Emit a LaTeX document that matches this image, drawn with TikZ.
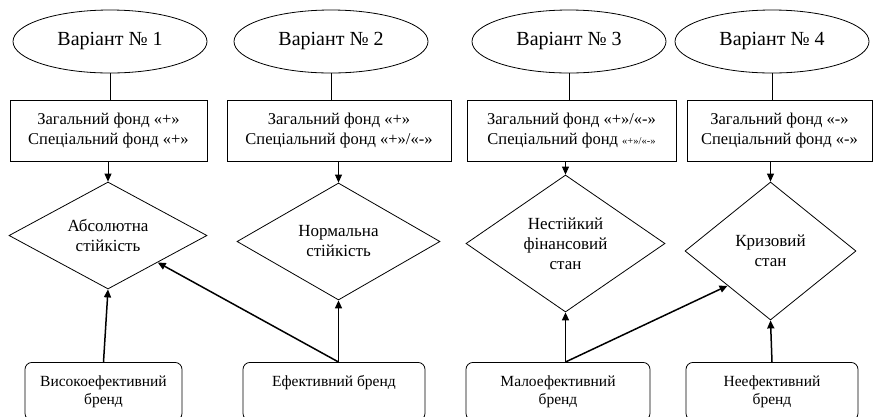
\documentclass[tikz,border=0pt]{standalone}
\usepackage{fontspec}
\setmainfont{Liberation Serif}
\usetikzlibrary{shapes.geometric, arrows.meta}

\begin{document}
\begin{tikzpicture}[x=1pt, y=-1pt, >={Triangle[length=8pt, width=7pt]},
    variant/.style={draw, ellipse, line width=0.8pt, inner sep=0pt,
        minimum width=194pt, minimum height=63pt, font=\fontsize{20}{23}\selectfont},
    fund/.style={draw, rectangle, line width=0.8pt, align=center,
        minimum height=61pt, font=\fontsize{16.5}{20}\selectfont},
    state/.style={draw, diamond, aspect=2, inner sep=0pt, line width=0.8pt, align=center,
        font=\fontsize{17}{20}\selectfont},
    brand/.style={draw, rectangle, rounded corners=7pt, line width=0.8pt, align=center,
        anchor=north, minimum height=58pt, font=\fontsize{15.5}{18}\selectfont},
    link/.style={->, line width=1.5pt}]
    \useasboundingbox (0, 0) rectangle (873, 416);

    % Variants
    \node[variant] (e1) at (110, 41.5) {Варіант № 1};
    \node[variant] (e2) at (331, 41.5) {Варіант № 2};
    \node[variant] (e3) at (569, 41.5) {Варіант № 3};
    \node[variant] (e4) at (772, 41.5) {Варіант № 4};

    % Funds
    \node[fund, minimum width=197pt] (r1) at (108.5, 130.5) {Загальний фонд «+»\\Спеціальний фонд «+»};
    \node[fund, minimum width=224pt] (r2) at (339, 130.5) {Загальний фонд «+»\\Спеціальний фонд «+»/«-»};
    \node[fund, minimum width=209pt] (r3) at (571.5, 130.5) {Загальний фонд «+»/«-»\\Спеціальний фонд {\fontsize{10.5}{12}\selectfont«+»/«-»}};
    \node[fund, minimum width=185pt] (r4) at (779.5, 130.5) {Загальний фонд «-»\\Спеціальний фонд «-»};

    % States
    \node[state, minimum width=198pt, minimum height=107pt] (d1) at (108, 235.5) {Абсолютна\\стійкість};
    \node[state, minimum width=203pt, minimum height=117pt] (d2) at (338.5, 241.5) {Нормальна\\стійкість};
    \node[state, minimum width=199pt, minimum height=137pt] (d3) at (565.5, 243.5) {Нестійкий\\фінансовий\\стан};
    \node[state, minimum width=171pt, minimum height=138pt] (d4) at (770.5, 251) {Кризовий\\стан};

    % Brands
    \node[brand, minimum width=157pt] (b1) at (103.5, 362) {Високоефективний\\бренд};
    \node[brand, minimum width=182pt, text depth=20pt] (b2) at (334, 362) {Ефективний бренд};
    \node[brand, minimum width=184pt] (b3) at (558, 362) {Малоефективний\\бренд};
    \node[brand, minimum width=172pt] (b4) at (772, 362) {Неефективний\\бренд};
    \coordinate (b2top) at (d2.south |- b2.north);
    \coordinate (b3top) at (d3.south |- b3.north);

    % Variants to funds
    \foreach \i in {1, 2, 3, 4} {
        \draw[line width=0.8pt] (e\i.south) -- (e\i.south |- r\i.north);
        \draw[->, line width=0.8pt] (d\i.north |- r\i.south) -- (d\i.north);
    }

    % Brands to states
    \draw[link] (b1.north) -- (d1.south);
    \draw[link] (b2top) -- (d2.south);
    \draw[link] (b2top) -- (d1.south east);
    \draw[link] (b3top) -- (d3.south);
    \draw[link] (b3top) -- (d4.south west);
    \draw[link] (b4.north) -- (d4.south);
\end{tikzpicture}
\end{document}
